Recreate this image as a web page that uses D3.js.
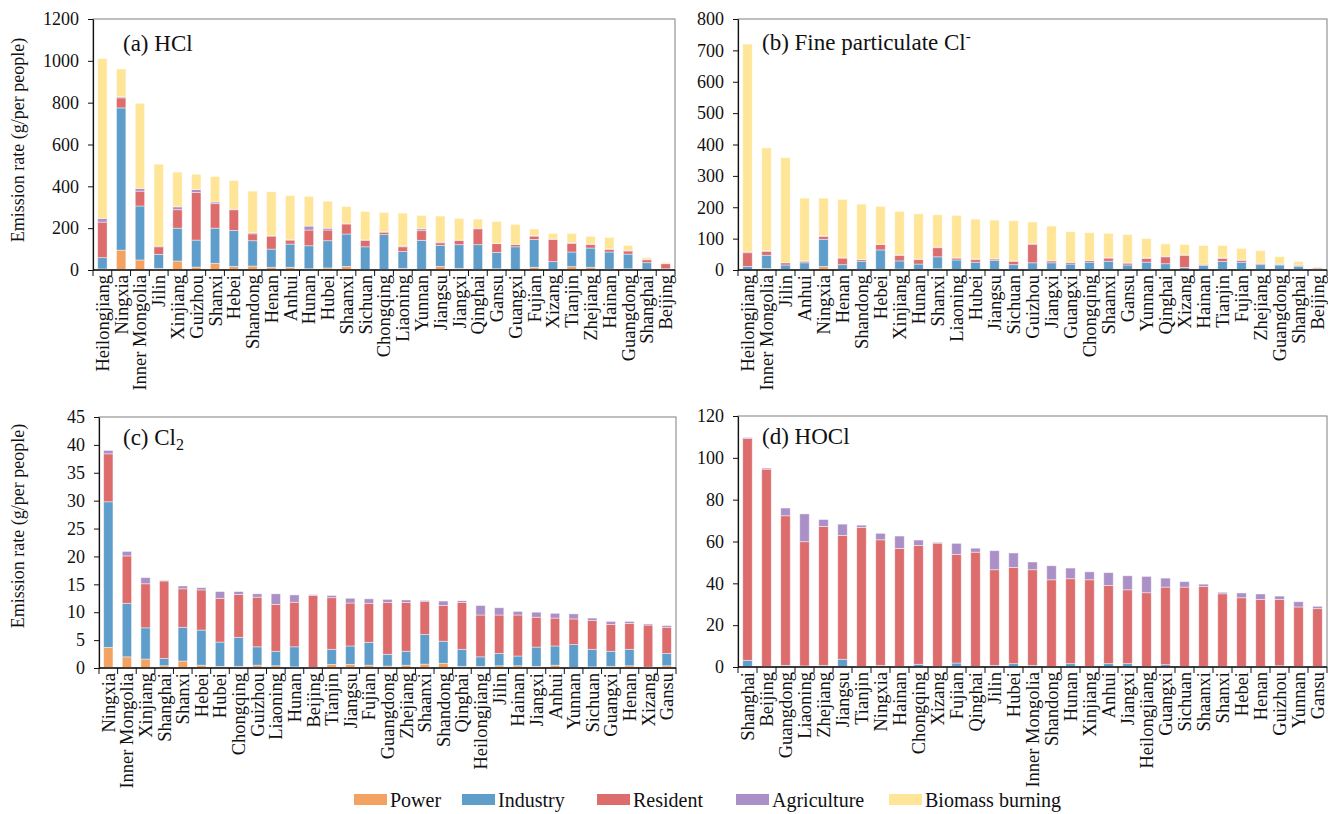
<!DOCTYPE html>
<html>
<head>
<meta charset="utf-8">
<script src="https://cdn.jsdelivr.net/npm/d3@7/dist/d3.min.js"></script>
<style>
  html, body { margin: 0; padding: 0; background: #fff; }
  svg { display: block; font-family: "Liberation Serif", "Times New Roman", serif; }
</style>
</head>
<body>
<svg id="chart" width="1328" height="814"></svg>
<script>
// ---------------- DATA ----------------
const seriesNames = ["Power", "Industry", "Resident", "Agriculture", "Biomass burning"];
const seriesColors = ["#F4A262", "#5F9ECB", "#DD6C6C", "#AA90C6", "#FFE598"];

// (a) HCl
const hclCats = ["Heilongjiang","Ningxia","Inner Mongolia","Jilin","Xinjiang","Guizhou","Shanxi","Hebei","Shandong","Henan","Anhui","Hunan","Hubei","Shaanxi","Sichuan","Chongqing","Liaoning","Yunnan","Jiangsu","Jiangxi","Qinghai","Gansu","Guangxi","Fujian","Xizang","Tianjin","Zhejiang","Hainan","Guangdong","Shanghai","Beijing"];
const hclPower     = [5,95,48,8,43,14,32,17,19,13,13,6,10,17,3,3,8,3,17,8,3,6,3,13,2,16,13,4,6,3,1];
const hclIndustry  = [54,680,258,67,157,129,168,172,121,87,111,110,130,155,108,166,80,139,101,113,118,78,108,133,38,70,92,82,70,32,5];
const hclResident  = [170,48,71,36,88,228,117,99,33,62,19,75,51,48,31,12,23,46,12,21,76,42,11,16,106,41,17,13,15,14,24];
const hclAgri      = [18,5,13,4,14,14,8,3,5,3,3,19,9,3,2,2,4,9,4,1,3,1,1,3,2,5,2,2,3,3,2];
const hclBiomass   = [763,133,407,391,166,73,122,137,199,209,210,142,129,81,136,92,157,64,124,104,43,105,95,31,27,43,37,55,24,8,5];

// (b) Fine particulate Cl-
const pclCats = ["Heilongjiang","Inner Mongolia","Jilin","Anhui","Ningxia","Henan","Shandong","Hebei","Xinjiang","Hunan","Shanxi","Liaoning","Hubei","Jiangsu","Sichuan","Guizhou","Jiangxi","Guangxi","Chongqing","Shaanxi","Gansu","Yunnan","Qinghai","Xizang","Hainan","Tianjin","Fujian","Zhejiang","Guangdong","Shanghai","Beijing"];
const pclPower     = [0,5,1,1,11,1,2,2,3,1,4,1,1,2,1,2,1,1,1,1,1,1,1,0,0,1,1,1,1,1,0];
const pclIndustry  = [11,42,15,22,87,16,26,62,26,18,38,31,24,28,16,21,22,18,24,27,15,24,19,8,14,26,24,16,15,11,2];
const pclResident  = [44,12,7,5,9,21,5,17,17,14,29,6,8,5,11,59,6,5,5,10,6,12,22,39,4,10,6,4,2,3,4];
const pclAgri      = [3,3,1,1,2,1,1,1,2,2,2,1,2,1,1,2,1,1,1,2,1,2,2,1,1,2,1,1,1,1,1];
const pclBiomass   = [662,327,334,200,120,186,176,121,139,144,103,135,127,123,128,69,110,97,88,77,90,61,39,33,59,39,37,40,24,11,3];

// (c) Cl2
const cl2Cats = ["Ningxia","Inner Mongolia","Xinjiang","Shanghai","Shanxi","Hebei","Hubei","Chongqing","Guizhou","Liaoning","Hunan","Beijing","Tianjin","Jiangsu","Fujian","Guangdong","Zhejiang","Shaanxi","Shandong","Qinghai","Heilongjiang","Jilin","Hainan","Jiangxi","Anhui","Yunnan","Sichuan","Guangxi","Henan","Xizang","Gansu"];
const cl2Power     = [3.7,2.0,1.6,0.4,1.25,0.5,0.3,0.3,0.5,0.4,0.2,0.05,0.65,0.65,0.5,0.35,0.5,0.7,0.85,0.3,0.3,0.4,0.4,0.3,0.5,0.1,0.2,0.3,0.4,0.1,0.4];
const cl2Industry  = [26.1,9.6,5.6,1.3,6.05,6.3,4.35,5.2,3.3,2.6,3.6,0.05,2.7,3.3,4.1,2.1,2.5,5.3,3.95,3.05,1.7,2.2,1.75,3.45,3.45,4.1,3.15,2.7,2.95,0.05,2.2];
const cl2Resident  = [8.6,8.5,7.9,13.9,6.9,7.2,7.85,7.7,8.9,8.4,8.0,12.9,9.25,7.7,7.0,9.3,8.75,5.9,6.4,8.4,7.5,6.9,7.35,5.35,5.0,4.6,5.15,4.8,4.65,7.55,4.7];
const cl2Agri      = [0.6,0.8,1.1,0.1,0.5,0.4,1.2,0.5,0.6,1.9,1.3,0.15,0.4,0.85,0.8,0.55,0.45,0.2,0.8,0.3,1.7,1.3,0.65,0.9,0.85,0.9,0.45,0.55,0.35,0.2,0.3];
const cl2Biomass   = [0,0,0,0,0,0,0,0,0,0,0,0,0,0,0,0,0,0,0,0,0,0,0,0,0,0,0,0,0,0,0];

// (d) HOCl
const hoclCats = ["Shanghai","Beijing","Guangdong","Liaoning","Zhejiang","Jiangsu","Tianjin","Ningxia","Hainan","Chongqing","Xizang","Fujian","Qinghai","Jilin","Hubei","Inner Mongolia","Shandong","Hunan","Xinjiang","Anhui","Jiangxi","Heilongjiang","Guangxi","Sichuan","Shaanxi","Shanxi","Hebei","Henan","Guizhou","Yunnan","Gansu"];
const hoclPower    = [0,0,0,0,0,0,0,0,0,0,0,0,0,0,0,0,0,0,0,0,0,0,0,0,0,0,0,0,0,0,0];
const hoclIndustry = [3.2,0.3,0.8,0.5,0.8,3.7,0.3,0.8,0.3,1.3,0.3,1.9,0.3,0.8,1.6,0.8,0.3,1.6,0.3,1.6,1.6,0.3,1.1,0.3,0.3,0.3,0.3,0.3,0.6,0.3,0.3];
const hoclResident = [106,94.3,71.5,59.4,66.4,59.2,66.4,60.0,56.4,56.8,58.9,51.9,54.6,45.7,46.0,45.7,41.4,40.6,41.4,37.4,35.3,35.2,37.1,37.9,38.2,34.7,32.8,32.0,31.7,28.4,27.6];
const hoclAgri     = [0.5,0.5,3.7,13.3,3.3,5.4,1.1,3.1,5.9,2.6,0.4,5.3,1.9,9.1,6.9,3.7,6.7,5.1,3.8,6.1,6.7,7.8,4.3,2.6,1.1,0.7,2.3,2.6,1.6,2.5,1.1];
const hoclBiomass  = [0,0,0,0,0,0,0,0,0,0,0,0,0,0,0,0,0,0,0,0,0,0,0,0,0,0,0,0,0,0,0];

const hclTicks  = [0,200,400,600,800,1000,1200];
const pclTicks  = [0,100,200,300,400,500,600,700,800];
const cl2Ticks  = [0,5,10,15,20,25,30,35,40,45];
const hoclTicks = [0,20,40,60,80,100,120];

const yTitle = "Emission rate (g/per people)";

// ---------------- DRAW ----------------
const FONT = '"Liberation Serif", "Times New Roman", serif';
const svg = d3.select("#chart");
svg.append("rect").attr("width", 1328).attr("height", 814).attr("fill", "#fff");

function drawPanel(cfg) {
  const { cats, series, ticks, box, title, titlePos } = cfg;
  const g = svg.append("g").attr("font-family", FONT);
  const x = d3.scaleBand().domain(cats)
    .range([box.left, box.right]).paddingInner(0.5).paddingOuter(0.25);
  const y = d3.scaleLinear().domain([0, ticks[ticks.length - 1]]).range([box.bottom, box.top]);

  const rows = cats.map((c, i) => {
    const r = { cat: c };
    seriesNames.forEach((s, k) => r[s] = series[k][i]);
    return r;
  });
  const stacked = d3.stack().keys(seriesNames)(rows);

  // plot frame (top/right)
  g.append("rect")
    .attr("x", box.left).attr("y", box.top)
    .attr("width", box.right - box.left).attr("height", box.bottom - box.top)
    .attr("fill", "none").attr("stroke", "#7f7f7f").attr("stroke-width", 1);

  // bars
  stacked.forEach((layer, k) => {
    g.append("g").selectAll("rect").data(layer).join("rect")
      .attr("x", d => x(d.data.cat))
      .attr("width", x.bandwidth())
      .attr("y", d => y(d[1]))
      .attr("height", d => Math.max(0, y(d[0]) - y(d[1])))
      .attr("fill", seriesColors[k])
      .attr("stroke", "rgba(255,255,255,0.55)")
      .attr("stroke-width", 0.8);
  });

  // y axis
  const ya = g.append("g").attr("transform", `translate(${box.left},0)`)
    .call(d3.axisLeft(y).tickValues(ticks).tickSize(5).tickSizeOuter(0).tickPadding(9).tickFormat(d3.format("d")));
  ya.attr("font-family", FONT);
  ya.selectAll("text").attr("font-size", 18).attr("fill", "#111").attr("font-family", FONT);
  ya.selectAll("line").attr("stroke", "#111");
  ya.select(".domain").attr("stroke", "#111").attr("stroke-width", 1.2);

  // x axis line
  g.append("line")
    .attr("x1", box.left).attr("x2", box.right)
    .attr("y1", box.bottom).attr("y2", box.bottom)
    .attr("stroke", "#111").attr("stroke-width", 1.6);

  // tick marks between categories
  const step = x.step();
  const bounds = d3.range(cats.length + 1).map(i => box.left + i * step);
  g.append("g").selectAll("line").data(bounds).join("line")
    .attr("x1", d => d).attr("x2", d => d)
    .attr("y1", box.bottom).attr("y2", box.bottom + 6)
    .attr("stroke", "#111").attr("stroke-width", 1);

  // category labels
  g.append("g").selectAll("text").data(cats).join("text")
    .attr("transform", d => `translate(${x(d) + x.bandwidth() / 2},${box.bottom + 5}) rotate(-90)`)
    .attr("text-anchor", "end")
    .attr("dy", "0.35em")
    .attr("font-size", 18.5)
    .attr("fill", "#111")
    .text(d => d);

  // title
  const t = g.append("text")
    .attr("x", titlePos[0]).attr("y", titlePos[1])
    .attr("font-size", 23).attr("fill", "#111");
  title(t);
}

const boxA = { left: 93, right: 675, top: 19, bottom: 270 };
const boxB = { left: 738, right: 1327, top: 19, bottom: 270 };
const boxC = { left: 99, right: 676, top: 417, bottom: 668 };
const boxD = { left: 738, right: 1327, top: 416, bottom: 667 };

drawPanel({ cats: hclCats, series: [hclPower, hclIndustry, hclResident, hclAgri, hclBiomass], ticks: hclTicks, box: boxA,
  titlePos: [123, 51], title: t => t.text("(a) HCl") });
drawPanel({ cats: pclCats, series: [pclPower, pclIndustry, pclResident, pclAgri, pclBiomass], ticks: pclTicks, box: boxB,
  titlePos: [762, 50],
  title: t => { t.append("tspan").text("(b) Fine particulate Cl"); t.append("tspan").attr("font-size", 15).attr("dy", -9).text("-"); } });
drawPanel({ cats: cl2Cats, series: [cl2Power, cl2Industry, cl2Resident, cl2Agri, cl2Biomass], ticks: cl2Ticks, box: boxC,
  titlePos: [123, 445],
  title: t => { t.append("tspan").text("(c) Cl"); t.append("tspan").attr("font-size", 16).attr("dy", 5).text("2"); } });
drawPanel({ cats: hoclCats, series: [hoclPower, hoclIndustry, hoclResident, hoclAgri, hoclBiomass], ticks: hoclTicks, box: boxD,
  titlePos: [762, 444], title: t => t.text("(d) HOCl") });

// y-axis titles
[140, 526].forEach(cy => {
  svg.append("text")
    .attr("transform", `translate(18,${cy}) rotate(-90)`)
    .attr("text-anchor", "middle").attr("dy", "0.35em")
    .attr("font-family", FONT)
    .attr("font-size", 18).attr("fill", "#111")
    .text(yTitle);
});

// legend
const legendX = [354, 462, 597, 736, 889];
const lg = svg.append("g").attr("font-family", FONT);
seriesNames.forEach((s, k) => {
  lg.append("rect").attr("x", legendX[k]).attr("y", 794).attr("width", 33).attr("height", 11)
    .attr("fill", seriesColors[k]);
  lg.append("text").attr("x", legendX[k] + 36).attr("y", 800).attr("dy", "0.35em")
    .attr("font-size", 20).attr("fill", "#111").text(s);
});
</script>
</body>
</html>
